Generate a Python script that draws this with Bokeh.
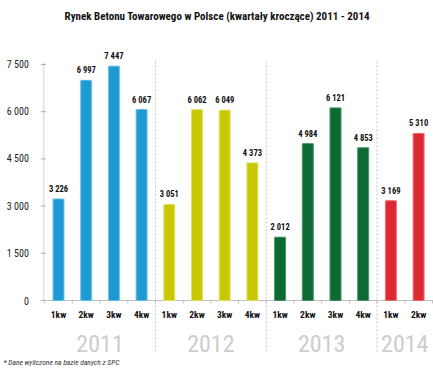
from bokeh.plotting import figure
from bokeh.models import ColumnDataSource, Range1d
from bokeh.core.properties import value
from bokeh.embed import file_html
from bokeh.resources import INLINE

# ---- data ----
years = ["2011", "2012", "2013", "2014"]
quarters = ["1kw", "2kw", "3kw", "4kw"]
values_2011 = [3226, 6997, 7447, 6067]
values_2012 = [3051, 6062, 6049, 4373]
values_2013 = [2012, 4984, 6121, 4853]
values_2014 = [3169, 5310]
y_ticks = [0, 1500, 3000, 4500, 6000, 7500]
y_tick_labels = ["0", "1 500", "3 000", "4 500", "6 000", "7 500"]
title_text = "Rynek Betonu  Towarowego w Polsce (kwartały kroczące) 2011 - 2014"
footnote_text = "* Dane wyliczone na bazie danych z SPC"

fills = ["#1f9ad3", "#c8c800", "#0e6a32", "#dd2a33"]
edges = ["#72c3e8", "#e4e46a", "#4c9668", "#ef7078"]

W, H = 433, 378
SLOT = 27.7          # px per category slot
PXY = 236.0 / 7500   # px per unit
X0 = -58 / SLOT
X1 = X0 + W / SLOT
Y1 = 7500 + 64 / PXY
Y0 = -(H - 300) / PXY


def fx(px):
    return X0 + px / SLOT


def fy(px):
    return Y1 - px / PXY


FONT = value("Roboto Condensed")

# build bar table
xs, tops, cols, lcols, qlab, vlab = [], [], [], [], [], []
groups = [values_2011, values_2012, values_2013, values_2014]
i = 0
group_centers = []
separators = []
for g, vals in enumerate(groups):
    start = i
    for q, v in enumerate(vals):
        xs.append(i)
        tops.append(v)
        cols.append(fills[g])
        lcols.append(edges[g])
        qlab.append(quarters[q])
        vlab.append(f"{v:,}".replace(",", " "))
        i += 1
    group_centers.append((start + i - 1) / 2)
    if g < len(groups) - 1:
        separators.append(i - 0.5)
n = i

src = ColumnDataSource(dict(x=xs, top=tops, fill=cols, line=lcols, q=qlab, v=vlab))

p = figure(width=W, height=H, output_backend="svg", toolbar_location=None,
           x_range=Range1d(X0, X1), y_range=Range1d(Y0, Y1),
           min_border=0, min_border_left=0, min_border_right=0,
           min_border_top=0, min_border_bottom=0)
p.axis.visible = False
p.grid.visible = False
p.outline_line_color = None
p.background_fill_color = "white"

AX = -0.53
# separators
p.segment(x0=separators, x1=separators, y0=[fy(61)] * len(separators), y1=[fy(353)] * len(separators),
          line_color="#c4c4c4", line_width=1, line_dash="2 2")
# axes lines
p.segment(x0=[AX], x1=[X1], y0=[0], y1=[0], line_color="#c0c0c0", line_width=1)
p.segment(x0=[AX], x1=[AX], y0=[0], y1=[fy(62)], line_color="#d0d0d0", line_width=1)
# y ticks
p.segment(x0=[AX - 3 / SLOT] * len(y_ticks), x1=[AX + 2 / SLOT] * len(y_ticks), y0=y_ticks, y1=y_ticks,
          line_color="#b0b0b0", line_width=1)
# x minor ticks at slot boundaries
bnd = [k - 0.5 for k in range(n + 1)]
p.segment(x0=bnd, x1=bnd, y0=[0] * len(bnd), y1=[-3 / PXY] * len(bnd), line_color="#c0c0c0", line_width=1)

# bars
p.vbar(x="x", top="top", bottom=0, width=11 / SLOT, source=src, fill_color="fill",
       line_color="line", line_width=1)
p.vbar(x="x", top="top", bottom=0, width=5 / SLOT, source=src, fill_color="fill",
       line_color=None, fill_alpha=0.6)

# value labels
p.text(x="x", y="top", text="v", source=src, text_font=FONT, text_font_style="bold",
       text_font_size="8.5px", text_align="center", text_baseline="bottom", y_offset=-5,
       text_color="#111111")
# quarter labels
p.text(x="x", y=0, text="q", source=src, text_font=FONT, text_font_style="bold",
       text_font_size="9.5px", text_align="center", text_baseline="middle", y_offset=14,
       text_color="#111111")
# year labels
p.text(x=group_centers, y=[0] * len(years), text=years, text_font=FONT,
       text_font_size="24px", text_align="center", text_baseline="middle", y_offset=43,
       text_color="#cdcdcd")
# y tick labels
p.text(x=[AX] * len(y_ticks), y=y_ticks, text=y_tick_labels, text_font=FONT,
       text_font_size="10px", text_align="right", text_baseline="middle", x_offset=-15,
       text_color="#222222")
# title
p.text(x=[fx(218)], y=[fy(16)], text=[title_text], text_font=FONT, text_font_style="bold",
       text_font_size="11px", text_align="center", text_baseline="middle", text_color="#111111")
# footnote
p.text(x=[fx(3)], y=[fy(362)], text=[footnote_text], text_font=FONT, text_font_style="italic",
       text_font_size="7.5px", text_align="left", text_baseline="middle", text_color="#333333")

open("out.html", "w").write(file_html(p, INLINE))
